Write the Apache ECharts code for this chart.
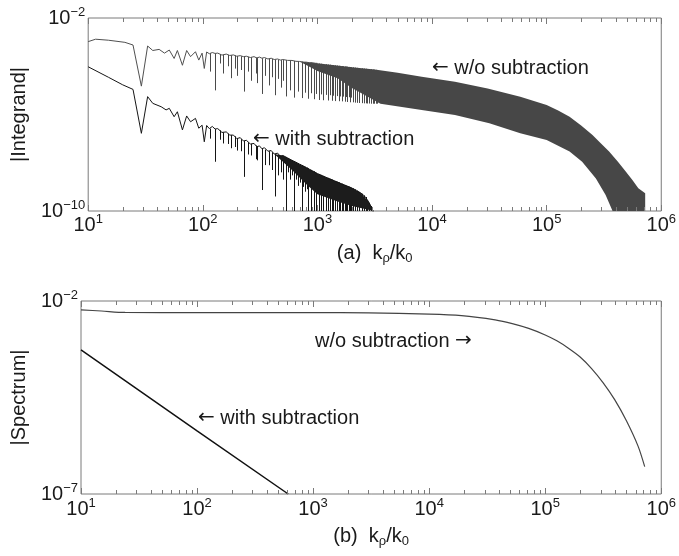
<!DOCTYPE html>
<html>

<head>
  <meta charset="utf-8">
  <title>Integrand and spectrum</title>
  <script src="https://cdn.jsdelivr.net/npm/echarts@6/dist/echarts.min.js"></script>
  <style>
    html, body { margin: 0; padding: 0; background: #fff; }
    #chart { width: 679px; height: 556px; }
  </style>
</head>

<body>
  <div id="chart"></div>

  <script>
    // decades on the k_rho/k_0 axis, and the two y ranges
    var xTicks = [1e1, 1e2, 1e3, 1e4, 1e5, 1e6];
    var yRangeTop = [1e-10, 1e-2];
    var yRangeBottom = [1e-7, 1e-2];

    // (a) |Integrand| w/o subtraction: start of the curve, then the upper ripple
    var integrandWo = [
      [10, 1.05e-3], [11.6, 1.32e-3], [15, 1.2e-3], [20.9, 9.8e-4], [24.6, 7.6e-4],
      [29.1, 1.5e-5], [33, 6.9e-4], [36.6, 4.5e-4], [41.6, 5.0e-4], [46.3, 3.5e-4],
      [51, 4.7e-4], [56.2, 2.1e-4], [60, 4.5e-4], [66.4, 1.1e-4], [72.3, 4.5e-4],
      [78.2, 2.5e-4], [86.3, 4.0e-4], [92.2, 1.8e-4], [98.6, 3.5e-4], [103, 8.1e-5],
      [108, 3.9e-4], [114, 3.3e-4], [121, 3.7e-4], [128, 3.4e-4], [135, 3.5e-4],
      [147, 2.9e-4], [160, 3.2e-4], [172, 2.8e-4], [185, 2.95e-4], [198, 2.6e-4],
      [212, 2.75e-4], [226, 2.5e-4], [240, 2.6e-4], [260, 2.3e-4], [280, 2.5e-4],
      [296, 2.2e-4], [312, 2.4e-4], [328, 2.15e-4], [345, 2.3e-4], [370, 2.0e-4],
      [395, 2.15e-4], [420, 1.9e-4], [450, 2.0e-4], [475, 1.8e-4], [500, 1.9e-4],
      [550, 1.75e-4], [600, 1.74e-4], [650, 1.6e-4], [700, 1.58e-4], [750, 1.48e-4],
      [800, 1.48e-4], [850, 1.4e-4], [900, 1.4e-4], [950, 1.33e-4], [1000, 1.32e-4]
    ];
    // its narrow dips: [k, top, bottom]
    var woSpikes = [
      [116, 3.5e-4, 6.0e-5], [128, 3.4e-4, 1.0e-5], [140, 3.2e-4, 1.3e-4], [150, 3.0e-4, 5.0e-5],
      [165, 2.95e-4, 1.0e-4], [175, 2.85e-4, 3.2e-5], [190, 2.8e-4, 8.0e-5], [200, 2.65e-4, 4.0e-5],
      [215, 2.6e-4, 7.0e-5], [228, 2.55e-4, 8.9e-6], [250, 2.45e-4, 6.0e-5], [265, 2.35e-4, 2.5e-5],
      [290, 2.3e-4, 5.0e-5], [300, 2.25e-4, 2.0e-5], [328, 2.15e-4, 7.1e-6], [350, 2.1e-4, 4.0e-5],
      [375, 2.05e-4, 1.6e-5], [400, 2.0e-4, 3.5e-5], [428, 1.9e-4, 6.3e-6], [455, 1.85e-4, 3.0e-5],
      [478, 1.8e-4, 1.3e-5], [503, 1.8e-4, 2.5e-5],
      [528, 1.8e-4, 5.6e-6], [578, 1.75e-4, 1.0e-5], [628, 1.65e-4, 5.0e-6], [678, 1.6e-4, 8.9e-6],
      [728, 1.55e-4, 4.8e-6], [778, 1.5e-4, 8.0e-6], [828, 1.45e-4, 4.5e-6], [878, 1.4e-4, 7.6e-6],
      [928, 1.38e-4, 4.3e-6], [978, 1.33e-4, 7.1e-6], [1028, 1.3e-4, 4.0e-6], [1078, 1.27e-4, 6.8e-6],
      [1128, 1.24e-4, 3.9e-6], [1178, 1.21e-4, 6.5e-6], [1228, 1.18e-4, 3.8e-6], [1278, 1.16e-4, 6.3e-6],
      [1328, 1.13e-4, 3.7e-6], [1378, 1.11e-4, 6.0e-6], [1428, 1.09e-4, 3.6e-6], [1478, 1.07e-4, 5.8e-6],
      [1528, 1.05e-4, 3.55e-6], [1578, 1.03e-4, 5.6e-6], [1628, 1.01e-4, 3.5e-6], [1678, 1.0e-4, 5.5e-6],
      [1728, 9.8e-5, 3.4e-6], [1778, 9.7e-5, 5.3e-6], [1828, 9.6e-5, 3.3e-6], [1878, 9.4e-5, 5.2e-6],
      [1928, 9.3e-5, 3.2e-6], [1978, 9.1e-5, 5.0e-6], [2028, 9.0e-5, 3.2e-6], [2128, 8.8e-5, 3.1e-6],
      [2228, 8.6e-5, 3.05e-6], [2328, 8.4e-5, 3.0e-6], [2428, 8.2e-5, 2.95e-6], [2528, 8.0e-5, 2.9e-6],
      [2628, 7.9e-5, 2.9e-6], [2728, 7.7e-5, 2.85e-6], [2828, 7.6e-5, 2.85e-6], [2928, 7.5e-5, 2.8e-6],
      [3028, 7.3e-5, 2.8e-6], [3128, 7.2e-5, 2.8e-6], [3228, 7.1e-5, 2.8e-6], [3328, 7.0e-5, 2.8e-6]
    ];
    // dense part: upper and lower edge of the dark band
    var bandTop = [
      [700, 1.58e-4], [1000, 1.32e-4], [2000, 9.1e-5], [3162, 7.4e-5], [5012, 5.4e-5],
      [8128, 3.7e-5], [15850, 2.3e-5], [30550, 1.2e-5], [58880, 5.5e-6], [1e5, 2.45e-6],
      [1.26e5, 1.48e-6], [1.585e5, 8.1e-7], [2.0e5, 3.5e-7], [2.512e5, 1.4e-7], [2.95e5, 6.6e-8],
      [3.508e5, 2.9e-8], [4.17e5, 1.12e-8], [4.898e5, 4.3e-9], [5.62e5, 1.86e-9], [6.31e5, 8.7e-10],
      [7.24e5, 5.4e-10], [7.24e5, 1e-10]
    ];
    var bandBottom = [
      [700, 1.58e-4], [1000, 6.3e-5], [1500, 3.2e-5], [2000, 1.26e-5], [3548, 2.8e-6],
      [8128, 1.55e-6], [15850, 9.5e-7], [31620, 4.3e-7], [58880, 1.66e-7], [1e5, 8.7e-8],
      [1.585e5, 2.9e-8], [2.04e5, 1.1e-8], [2.69e5, 2.2e-9], [3.27e5, 4.6e-10], [3.76e5, 1e-10]
    ];

    // (a) |Integrand| with subtraction: start of the curve, then the upper ripple
    var integrandWith = [
      [10, 9.5e-5], [15, 3.5e-5], [20, 1.7e-5], [24.6, 1.1e-5], [29.1, 1.66e-7],
      [33, 5.5e-6], [36.6, 2.9e-6], [43.3, 2.1e-6], [47.8, 1.55e-6], [51, 1.8e-6],
      [56.2, 8.1e-7], [60, 1.3e-6], [66.4, 2.3e-7], [72.3, 8.7e-7], [78.2, 5.0e-7],
      [86.3, 6.9e-7], [92.2, 2.7e-7], [98.6, 3.6e-7], [103, 7.4e-8], [108, 3.5e-7],
      [114, 2.6e-7], [121, 3.2e-7], [128, 2.5e-7], [135, 2.6e-7], [147, 1.8e-7],
      [160, 1.9e-7], [172, 1.4e-7], [185, 1.4e-7], [198, 1.0e-7], [212, 1.1e-7],
      [226, 8.0e-8], [240, 8.5e-8], [260, 6.0e-8], [280, 6.3e-8], [296, 4.6e-8],
      [312, 5.0e-8], [328, 3.8e-8], [345, 4.2e-8], [370, 3.0e-8], [395, 3.2e-8],
      [420, 2.3e-8], [450, 2.5e-8], [475, 1.8e-8], [500, 2.0e-8], [550, 1.58e-8],
      [600, 1.26e-8], [650, 1.05e-8], [700, 8.7e-9], [750, 7.4e-9], [800, 6.3e-9],
      [850, 5.4e-9], [900, 4.7e-9], [950, 4.1e-9], [1000, 3.55e-9], [1100, 2.95e-9],
      [1200, 2.45e-9], [1300, 2.1e-9], [1400, 1.8e-9], [1500, 1.58e-9], [1600, 1.38e-9],
      [1700, 1.23e-9], [1800, 1.1e-9], [1900, 1.0e-9], [2000, 8.9e-10], [2200, 7.1e-10],
      [2400, 5.5e-10], [2600, 4.0e-10], [2800, 2.4e-10], [3000, 1.26e-10], [3100, 8e-11]
    ];
    var withSpikes = [
      [116, 2.6e-7, 1.0e-7], [128, 2.5e-7, 1.1e-8], [140, 2.2e-7, 9.0e-8], [150, 1.8e-7, 6.3e-8],
      [165, 1.6e-7, 6.0e-8], [175, 1.4e-7, 4.0e-8], [190, 1.25e-7, 4.5e-8], [200, 1.0e-7, 3.2e-8],
      [215, 9.5e-8, 3.0e-8], [228, 8.0e-8, 2.6e-9], [250, 7.0e-8, 2.2e-8], [265, 6.0e-8, 2.0e-8],
      [290, 5.2e-8, 1.4e-8], [300, 4.6e-8, 1.26e-8], [328, 3.8e-8, 7.4e-10], [350, 3.5e-8, 8.0e-9],
      [375, 3.0e-8, 7.9e-9], [400, 2.7e-8, 5.0e-9], [428, 2.3e-8, 4.0e-10], [455, 2.1e-8, 3.0e-9],
      [478, 1.8e-8, 4.0e-9], [503, 1.9e-8, 2.0e-9],
      [528, 1.7e-8, 5e-11], [553, 1.55e-8, 4.0e-9], [578, 1.4e-8, 2.0e-9], [603, 1.25e-8, 3.0e-9],
      [628, 1.15e-8, 5e-11], [653, 1.05e-8, 2.0e-9], [678, 9.5e-9, 1.1e-9], [703, 8.7e-9, 1.5e-9],
      [728, 8.0e-9, 5e-11], [753, 7.4e-9, 1.0e-9], [778, 6.8e-9, 6.3e-10], [803, 6.3e-9, 8.0e-10],
      [828, 5.8e-9, 5e-11], [878, 5.0e-9, 5e-11], [928, 4.4e-9, 5e-11], [978, 3.8e-9, 5e-11],
      [1028, 3.4e-9, 5e-11], [1078, 3.1e-9, 5e-11], [1128, 2.8e-9, 5e-11], [1178, 2.55e-9, 5e-11],
      [1228, 2.35e-9, 5e-11], [1278, 2.15e-9, 5e-11], [1328, 2.0e-9, 5e-11], [1378, 1.85e-9, 5e-11],
      [1428, 1.75e-9, 5e-11], [1478, 1.63e-9, 5e-11], [1528, 1.53e-9, 5e-11], [1578, 1.43e-9, 5e-11],
      [1628, 1.35e-9, 5e-11], [1678, 1.27e-9, 5e-11], [1728, 1.2e-9, 5e-11], [1778, 1.13e-9, 5e-11],
      [1828, 1.07e-9, 5e-11], [1878, 1.02e-9, 5e-11], [1928, 9.7e-10, 5e-11], [1978, 9.2e-10, 5e-11],
      [2028, 8.7e-10, 5e-11], [2128, 7.8e-10, 5e-11], [2228, 6.9e-10, 5e-11], [2328, 6.1e-10, 5e-11],
      [2428, 5.2e-10, 5e-11], [2528, 4.4e-10, 5e-11], [2628, 3.8e-10, 5e-11], [2728, 2.8e-10, 5e-11],
      [2828, 2.1e-10, 5e-11], [2928, 1.6e-10, 5e-11]
    ];
    var withCloudTop = [
      [420, 2.3e-8], [500, 2.0e-8], [600, 1.26e-8], [700, 8.7e-9], [800, 6.3e-9],
      [1000, 3.55e-9], [1200, 2.45e-9], [1500, 1.58e-9], [2000, 8.9e-10], [2400, 5.5e-10],
      [2800, 2.4e-10], [3000, 1.26e-10], [3100, 1e-10]
    ];
    var withCloudBottom = [
      [420, 2.3e-8], [600, 5.0e-9], [800, 1.3e-9], [1000, 5.0e-10], [1500, 2.5e-10],
      [2000, 1.6e-10], [3100, 1e-10]
    ];

    // (b) |Spectrum|
    var spectrumWo = [
      [10, 5.9e-3], [15, 5.5e-3], [24, 5.05e-3], [100, 5.0e-3], [1000, 5.0e-3],
      [3000, 4.9e-3], [1e4, 4.57e-3], [1.9e4, 4.17e-3], [3.7e4, 3.24e-3], [5.2e4, 2.6e-3],
      [7.2e4, 1.95e-3], [1e5, 1.32e-3], [1.26e5, 9.3e-4], [1.585e5, 6.0e-4], [2.0e5, 3.55e-4],
      [2.51e5, 1.78e-4], [3.16e5, 7.6e-5], [3.98e5, 2.75e-5], [5.01e5, 7.9e-6], [6.31e5, 1.74e-6],
      [7.2e5, 5.1e-7]
    ];
    var spectrumWith = [[10, 5.4e-4], [100, 4.3e-6], [610, 1.0e-7]];

    // annotations (pixel anchor = left end, vertical centre)
    var notes = [
      { text: '{a|\u2190} w/o subtraction', x: 432, y: 68 },
      { text: '{a|\u2190} with subtraction', x: 253, y: 139 },
      { text: 'w/o subtraction {a|\u2192}', x: 315, y: 341 },
      { text: '{a|\u2190} with subtraction', x: 198, y: 418 }
    ];

    var FONT = "'Liberation Sans', Arial, Helvetica, sans-serif";
    var BOX = '#7a7a7a';
    var INK = '#1a1a1a';

    var chart = echarts.init(document.getElementById('chart'));

    // minor ticks 2..9 in every decade
    var minorTicks = [];
    for (var i = 0; i < xTicks.length - 1; i++) {
      for (var m = 2; m <= 9; m++) {
        minorTicks.push(m * xTicks[i]);
      }
    }

    function powLabel(v) {
      var e = Math.round(Math.log10(v));
      return '{b|10}{s|' + (e < 0 ? '\u2212' + (-e) : e) + '}';
    }
    var richPow = {
      b: { fontSize: 20, lineHeight: 24, fontFamily: FONT, color: INK },
      s: { fontSize: 13, lineHeight: 12, verticalAlign: 'top', fontFamily: FONT, color: INK }
    };

    function endsOnly(range) {
      return function (v) {
        var e = Math.round(Math.log10(v));
        if (e === Math.round(Math.log10(range[0])) || e === Math.round(Math.log10(range[1]))) {
          return powLabel(v);
        }
        return '';
      };
    }

    function xAxisBottom(grid, name, margin) {
      return {
        type: 'log', logBase: 10, gridIndex: grid,
        min: xTicks[0], max: xTicks[xTicks.length - 1], splitNumber: 5,
        axisLine: { show: false },
        axisTick: { inside: true, length: 6, lineStyle: { color: BOX } },
        splitLine: { show: false },
        axisLabel: { formatter: powLabel, rich: richPow, margin: margin },
        name: name, nameLocation: 'middle', nameGap: 30,
        nameTextStyle: {
          fontSize: 20, lineHeight: 24, fontFamily: FONT, color: INK,
          rich: { sub: { fontSize: 13, lineHeight: 6, verticalAlign: 'bottom', fontFamily: FONT, color: INK } }
        }
      };
    }

    function xAxisTop(grid) {
      return {
        type: 'log', logBase: 10, gridIndex: grid, position: 'top',
        min: xTicks[0], max: xTicks[xTicks.length - 1], splitNumber: 5,
        axisLine: { show: false },
        axisTick: { inside: true, length: 6, lineStyle: { color: BOX } },
        splitLine: { show: false },
        axisLabel: { show: false }
      };
    }

    function yAxis(grid, range, name, gap) {
      return {
        type: 'log', logBase: 10, gridIndex: grid, min: range[0], max: range[1],
        axisLine: { show: false },
        axisTick: { show: false },
        splitLine: { show: false },
        axisLabel: { formatter: endsOnly(range), rich: richPow, margin: 3, showMinLabel: true, showMaxLabel: true },
        name: name, nameLocation: 'middle', nameGap: gap,
        nameTextStyle: { fontSize: 20, lineHeight: 22, fontFamily: FONT, color: INK }
      };
    }

    function renderTick(params, api) {
      var cs = params.coordSys;
      var x = Math.round(api.coord([api.value(0), api.value(1)])[0]) + 0.5;
      var top = cs.y, bottom = cs.y + cs.height;
      return {
        type: 'group',
        children: [
          { type: 'line', shape: { x1: x, y1: bottom, x2: x, y2: bottom - 4 }, style: { stroke: BOX, lineWidth: 1 } },
          { type: 'line', shape: { x1: x, y1: top, x2: x, y2: top + 4 }, style: { stroke: BOX, lineWidth: 1 } }
        ]
      };
    }

    // a filled region between an upper and a lower edge
    function areaSeries(top, bottom, color) {
      return {
        type: 'custom', xAxisIndex: 0, yAxisIndex: 0, silent: true, clip: true,
        data: [top[0]],
        renderItem: function (params, api) {
          var pts = [];
          top.forEach(function (p) { pts.push(api.coord(p)); });
          bottom.slice().reverse().forEach(function (p) { pts.push(api.coord(p)); });
          return { type: 'polygon', shape: { points: pts }, style: { fill: color } };
        }
      };
    }

    // narrow dips drawn as vertical strokes from top to bottom value
    function spikeSeries(spikes, color) {
      return {
        type: 'custom', xAxisIndex: 0, yAxisIndex: 0, silent: true, clip: true,
        data: spikes,
        renderItem: function (params, api) {
          var a = api.coord([api.value(0), api.value(1)]);
          var b = api.coord([api.value(0), api.value(2)]);
          var x = Math.round(a[0]) + 0.5;
          return { type: 'line', shape: { x1: x, y1: a[1], x2: x, y2: b[1] }, style: { stroke: color, lineWidth: 1 } };
        }
      };
    }

    function tickSeries(xi, yi, yMin) {
      return {
        type: 'custom', xAxisIndex: xi, yAxisIndex: yi, z: 5, silent: true,
        renderItem: renderTick,
        data: minorTicks.map(function (v) { return [v, yMin]; })
      };
    }

    var option = {
      animation: false,
      backgroundColor: '#fff',
      textStyle: { fontFamily: FONT },
      grid: [
        { left: 81, top: 18, right: 16, height: 193, show: true, borderColor: BOX, borderWidth: 1 },
        { left: 81, top: 301, right: 16, height: 193, show: true, borderColor: BOX, borderWidth: 1 }
      ],
      xAxis: [
        xAxisBottom(0, '(a)  k{sub|\u03c1}/k{sub|0}', 2),
        xAxisTop(0),
        xAxisBottom(1, '(b)  k{sub|\u03c1}/k{sub|0}', 3),
        xAxisTop(1)
      ],
      yAxis: [
        yAxis(0, yRangeTop, '|Integrand|', 53),
        yAxis(1, yRangeBottom, '|Spectrum|', 48)
      ],
      series: [
        {
          name: 'w/o subtraction', type: 'line', xAxisIndex: 0, yAxisIndex: 0,
          data: integrandWo, showSymbol: false, lineStyle: { color: '#505050', width: 1 }
        },
        spikeSeries(woSpikes, '#4a4a4a'),
        areaSeries(bandTop, bandBottom, '#474747'),
        {
          name: 'with subtraction', type: 'line', xAxisIndex: 0, yAxisIndex: 0,
          data: integrandWith, showSymbol: false, lineStyle: { color: '#151515', width: 1 }
        },
        spikeSeries(withSpikes, '#151515'),
        areaSeries(withCloudTop, withCloudBottom, '#1c1c1c'),
        tickSeries(0, 0, yRangeTop[0]),
        {
          name: 'spectrum w/o', type: 'line', xAxisIndex: 2, yAxisIndex: 1,
          data: spectrumWo, showSymbol: false, smooth: 0.3, lineStyle: { color: '#444', width: 1.2 }
        },
        {
          name: 'spectrum with', type: 'line', xAxisIndex: 2, yAxisIndex: 1,
          data: spectrumWith, showSymbol: false, lineStyle: { color: '#111', width: 1.5 }
        },
        tickSeries(2, 1, yRangeBottom[0])
      ],
      graphic: notes.map(function (n) {
        return {
          type: 'text', x: n.x, y: n.y, z: 10,
          style: {
            text: n.text, fontSize: 20, fontFamily: FONT, fill: INK, verticalAlign: 'middle', align: 'left',
            rich: { a: { fontFamily: "'DejaVu Sans'", fontSize: 20, fill: INK } }
          }
        };
      })
    };

    chart.setOption(option);
  </script>
</body>

</html>
